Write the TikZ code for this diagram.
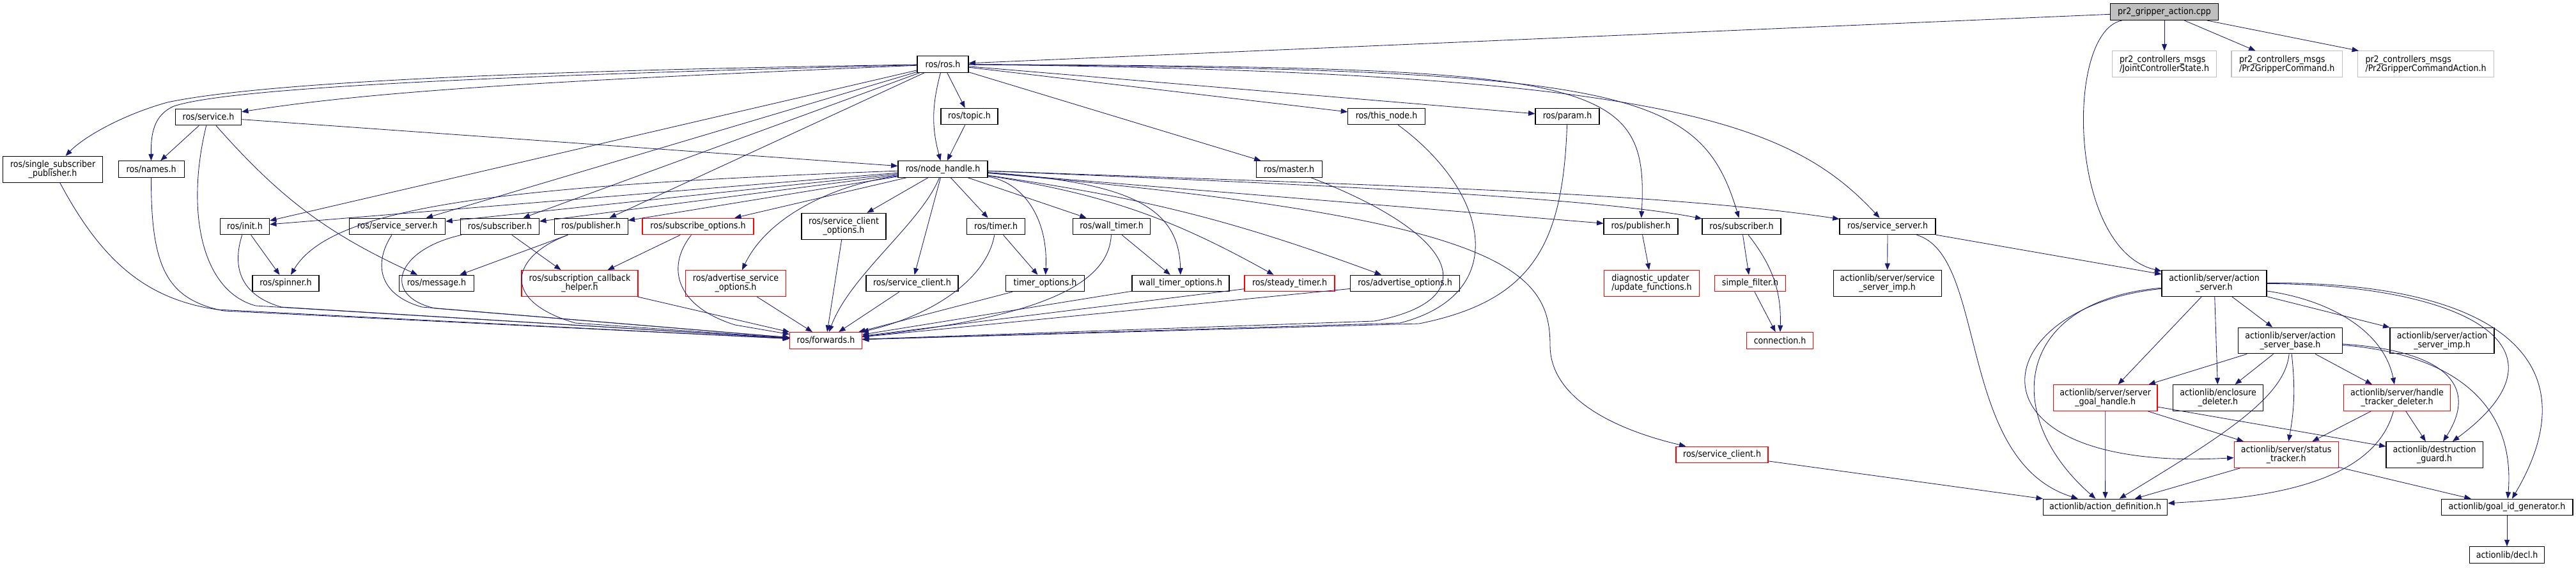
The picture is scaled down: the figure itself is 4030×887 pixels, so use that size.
\documentclass[tikz,border=0pt]{standalone}
\usepackage{fontspec}
\setmainfont{DejaVu Sans Condensed}
\usetikzlibrary{arrows.meta}
\definecolor{edgeblue}{RGB}{25,25,112}
\definecolor{boxgray}{RGB}{191,191,191}
\newcommand{\fname}[1]{\detokenize{#1}}
\tikzset{
    inclfile/.style={rectangle,draw=black,fill=white,line width=0.8pt,inner sep=0pt,align=center,minimum height=6.4mm,font=\fontsize{10}{10}\selectfont},
    incltwo/.style={inclfile,minimum height=10.2mm},
    inclred/.style={draw=red},
    inclext/.style={draw=boxgray,align=left},
    inclroot/.style={fill=boxgray},
    incledge/.style={-{Triangle[length=2.6mm,width=2mm]},draw=edgeblue,line width=0.6pt}
}

\begin{document}
\begin{tikzpicture}[x=0.25mm,y=-0.25mm]
    \useasboundingbox (0,0) rectangle (4030,887);
    % top rows
    \node[inclfile,inclroot,minimum width=42.1mm] (gripper) at (3386,18.7) {\fname{pr2_gripper_action.cpp}};
    \node[inclfile,minimum width=20mm] (rosh) at (1475,100.5) {\fname{ros/ros.h}};
    \node[incltwo,inclext,minimum width=40.75mm] (jcs) at (3386,100.3) {\fname{pr2_controllers_msgs}\\\fname{/JointControllerState.h}};
    \node[incltwo,inclext,minimum width=43.4mm] (gcmd) at (3577.7,100.3) {\fname{pr2_controllers_msgs}\\\fname{/Pr2GripperCommand.h}};
    \node[incltwo,inclext,minimum width=53.4mm] (gca) at (3795,100.3) {\fname{pr2_controllers_msgs}\\\fname{/Pr2GripperCommandAction.h}};
    \node[inclfile,minimum width=25.75mm] (service) at (326,183) {\fname{ros/service.h}};
    \node[inclfile,minimum width=22.25mm] (topic) at (1516.5,182) {\fname{ros/topic.h}};
    \node[inclfile,minimum width=30.1mm] (thisnode) at (2169,182) {\fname{ros/this_node.h}};
    \node[inclfile,minimum width=25mm] (param) at (2452,182) {\fname{ros/param.h}};
    \node[incltwo,minimum width=39mm] (ssp) at (82.6,264.7) {\fname{ros/single_subscriber}\\\fname{_publisher.h}};
    \node[inclfile,minimum width=25.75mm] (names) at (236.6,264.5) {\fname{ros/names.h}};
    \node[inclfile,minimum width=35mm] (nh) at (1475,264.5) {\fname{ros/node_handle.h}};
    \node[inclfile,minimum width=25.75mm] (master) at (2016.6,264.5) {\fname{ros/master.h}};
    % middle row
    \node[inclfile,minimum width=19.25mm] (init) at (383,354) {\fname{ros/init.h}};
    \node[inclfile,minimum width=37.5mm] (ssrvL) at (621.7,354) {\fname{ros/service_server.h}};
    \node[inclfile,minimum width=30.75mm] (subL) at (782,354) {\fname{ros/subscriber.h}};
    \node[inclfile,minimum width=28.75mm] (pubL) at (924.6,354) {\fname{ros/publisher.h}};
    \node[inclfile,inclred,minimum width=43.5mm] (subopts) at (1092,354) {\fname{ros/subscribe_options.h}};
    \node[incltwo,minimum width=33mm] (scopts) at (1320,353.7) {\fname{ros/service_client}\\\fname{_options.h}};
    \node[inclfile,minimum width=22.75mm] (timer) at (1558,354) {\fname{ros/timer.h}};
    \node[inclfile,minimum width=30.35mm] (walltimer) at (1739,354) {\fname{ros/wall_timer.h}};
    \node[inclfile,minimum width=29mm] (pubR) at (2567,354) {\fname{ros/publisher.h}};
    \node[inclfile,minimum width=30.75mm] (subR) at (2724.5,354) {\fname{ros/subscriber.h}};
    \node[inclfile,minimum width=37.5mm] (ssrvR) at (2953,354) {\fname{ros/service_server.h}};
    \node[incltwo,minimum width=41mm] (asrv) at (3464,443) {\fname{actionlib/server/action}\\\fname{_server.h}};
    % lower rows
    \node[inclfile,minimum width=26mm] (spinner) at (447,443) {\fname{ros/spinner.h}};
    \node[inclfile,minimum width=29.25mm] (message) at (683,443) {\fname{ros/message.h}};
    \node[incltwo,inclred,minimum width=45.5mm] (cbhelper) at (907,443) {\fname{ros/subscription_callback}\\\fname{_helper.h}};
    \node[incltwo,inclred,minimum width=39.25mm] (advsrvopts) at (1151,443) {\fname{ros/advertise_service}\\\fname{_options.h}};
    \node[inclfile,minimum width=36mm] (sclientB) at (1427,443) {\fname{ros/service_client.h}};
    \node[inclfile,minimum width=30.75mm] (timeropts) at (1635,443) {\fname{timer_options.h}};
    \node[inclfile,minimum width=38mm] (walltimeropts) at (1847,443) {\fname{wall_timer_options.h}};
    \node[inclfile,inclred,minimum width=35.25mm] (steady) at (2017.5,443) {\fname{ros/steady_timer.h}};
    \node[inclfile,minimum width=42.6mm] (advopts) at (2198,443) {\fname{ros/advertise_options.h}};
    \node[incltwo,inclred,align=left,minimum width=37.1mm] (diag) at (2584,443) {\fname{diagnostic_updater}\\\fname{/update_functions.h}};
    \node[inclfile,inclred,minimum width=27.7mm] (simplefilter) at (2738,443) {\fname{simple_filter.h}};
    \node[incltwo,minimum width=42.25mm] (ssimp) at (2952.6,443) {\fname{actionlib/server/service}\\\fname{_server_imp.h}};
    \node[inclfile,inclred,minimum width=28.15mm] (fwd) at (1292,532.3) {\fname{ros/forwards.h}};
    \node[inclfile,inclred,minimum width=26mm] (connection) at (2784.6,532.3) {\fname{connection.h}};
    \node[incltwo,minimum width=40.75mm] (asbase) at (3583,532.5) {\fname{actionlib/server/action}\\\fname{_server_base.h}};
    \node[incltwo,minimum width=40.75mm] (asimp) at (3820.5,532.5) {\fname{actionlib/server/action}\\\fname{_server_imp.h}};
    \node[incltwo,inclred,minimum width=40.6mm] (goalhandle) at (3293.7,622) {\fname{actionlib/server/server}\\\fname{_goal_handle.h}};
    \node[incltwo,minimum width=35.4mm] (enclosure) at (3470,622) {\fname{actionlib/enclosure}\\\fname{_deleter.h}};
    \node[incltwo,inclred,minimum width=41.7mm] (htd) at (3750,622) {\fname{actionlib/server/handle}\\\fname{_tracker_deleter.h}};
    \node[inclfile,inclred,minimum width=36mm] (sclientR) at (2694,711) {\fname{ros/service_client.h}};
    \node[incltwo,inclred,minimum width=40.75mm] (status) at (3576.6,711) {\fname{actionlib/server/status}\\\fname{_tracker.h}};
    \node[incltwo,minimum width=37.8mm] (destguard) at (3808.6,711) {\fname{actionlib/destruction}\\\fname{_guard.h}};
    \node[inclfile,minimum width=48.6mm] (actdef) at (3293.6,793) {\fname{actionlib/action_definition.h}};
    \node[inclfile,minimum width=51.45mm] (goalid) at (3922,793) {\fname{actionlib/goal_id_generator.h}};
    \node[inclfile,minimum width=29.25mm] (decl) at (3922,867.5) {\fname{actionlib/decl.h}};

    % includes of the source file
    \draw[incledge] (gripper) -- (rosh);
    \draw[incledge] (gripper) -- (jcs);
    \draw[incledge] (gripper) -- (gcmd);
    \draw[incledge] (gripper) -- (gca);
    \draw[incledge] (gripper) .. controls (3230,50) and (3235,390) .. (asrv);
    % ros/ros.h
    \draw[incledge] (rosh) .. controls (700,112) and (380,135) .. (262,160) .. controls (190,180) and (130,215) .. (ssp);
    \draw[incledge] (rosh) .. controls (700,120) and (350,140) .. (272,166) .. controls (240,180) and (236,210) .. (names);
    \draw[incledge] (rosh) .. controls (900,125) and (600,140) .. (service);
    \draw[incledge] (rosh) -- (init);
    \draw[incledge] (rosh) -- (ssrvL);
    \draw[incledge] (rosh) -- (subL);
    \draw[incledge] (rosh) -- (pubL);
    \draw[incledge] (rosh) -- (topic);
    \draw[incledge] (rosh) to[bend right=15] (nh);
    \draw[incledge] (rosh) -- (master);
    \draw[incledge] (rosh) -- (thisnode);
    \draw[incledge] (rosh) -- (param);
    \draw[incledge] (rosh) .. controls (2500,105) and (2580,120) .. (pubR);
    \draw[incledge] (rosh) .. controls (2550,108) and (2660,140) .. (subR);
    \draw[incledge] (rosh) .. controls (2600,112) and (2800,190) .. (ssrvR);
    % ros/service.h and ros/topic.h
    \draw[incledge] (service) -- (names);
    \draw[incledge] (service) -- (nh);
    \draw[incledge] (service) to[bend right=12] (message);
    \draw[incledge] (service) .. controls (290,330) and (315,455) .. (400,478) -- (fwd);
    \draw[incledge] (topic) -- (nh);
    % ros/node_handle.h
    \draw[incledge] (nh) -- (init);
    \draw[incledge] (nh) -- (ssrvL);
    \draw[incledge] (nh) -- (subL);
    \draw[incledge] (nh) -- (pubL);
    \draw[incledge] (nh) -- (subopts);
    \draw[incledge] (nh) .. controls (800,290) and (520,320) .. (spinner);
    \draw[incledge] (nh) .. controls (1300,290) and (1200,340) .. (advsrvopts);
    \draw[incledge] (nh) -- (scopts);
    \draw[incledge] (nh) .. controls (1440,350) and (1330,430) .. (fwd);
    \draw[incledge] (nh) -- (sclientB);
    \draw[incledge] (nh) -- (timer);
    \draw[incledge] (nh) .. controls (1600,285) and (1640,340) .. (timeropts);
    \draw[incledge] (nh) -- (walltimer);
    \draw[incledge] (nh) .. controls (1760,285) and (1845,320) .. (walltimeropts);
    \draw[incledge] (nh) to[bend left=10] (steady);
    \draw[incledge] (nh) to[bend left=6] (advopts);
    \draw[incledge] (nh) .. controls (2350,340) and (2425,420) .. (2425,540) .. controls (2425,620) and (2520,670) .. (sclientR);
    \draw[incledge] (nh) -- (pubR);
    \draw[incledge] (nh) .. controls (2100,290) and (2500,310) .. (subR);
    \draw[incledge] (nh) .. controls (2100,288) and (2600,300) .. (ssrvR);
    % everything into ros/forwards.h
    \draw[incledge] (ssp) .. controls (160,410) and (230,468) .. (340,484) -- (fwd);
    \draw[incledge] (names) .. controls (236,420) and (262,468) .. (350,486) -- (fwd);
    \draw[incledge] (init) .. controls (362,420) and (378,462) .. (440,480) -- (fwd);
    \draw[incledge] (ssrvL) .. controls (585,410) and (590,460) .. (660,480) -- (fwd);
    \draw[incledge] (subL) .. controls (620,390) and (595,462) .. (680,482) -- (fwd);
    \draw[incledge] (pubL) .. controls (800,400) and (780,470) .. (900,505) -- (fwd);
    \draw[incledge] (subopts) .. controls (1040,420) and (1060,480) .. (1150,508) -- (fwd);
    \draw[incledge] (cbhelper) -- (fwd);
    \draw[incledge] (advsrvopts) -- (fwd);
    \draw[incledge] (scopts) -- (fwd);
    \draw[incledge] (sclientB) -- (fwd);
    \draw[incledge] (timer) .. controls (1545,430) and (1470,490) .. (fwd);
    \draw[incledge] (timeropts) -- (fwd);
    \draw[incledge] (walltimer) .. controls (1735,440) and (1640,495) .. (fwd);
    \draw[incledge] (walltimeropts) -- (fwd);
    \draw[incledge] (steady) -- (fwd);
    \draw[incledge] (advopts) -- (fwd);
    \draw[incledge] (master) .. controls (2290,370) and (2320,470) .. (2150,502) -- (fwd);
    \draw[incledge] (thisnode) .. controls (2330,300) and (2365,460) .. (2190,505) -- (fwd);
    \draw[incledge] (param) .. controls (2445,380) and (2400,470) .. (2220,506) -- (fwd);
    % other ros headers
    \draw[incledge] (init) -- (spinner);
    \draw[incledge] (subL) -- (cbhelper);
    \draw[incledge] (subopts) -- (cbhelper);
    \draw[incledge] (pubL) -- (message);
    \draw[incledge] (timer) -- (timeropts);
    \draw[incledge] (walltimer) -- (walltimeropts);
    \draw[incledge] (pubR) -- (diag);
    \draw[incledge] (subR) -- (simplefilter);
    \draw[incledge] (subR) to[bend left=20] (connection);
    \draw[incledge] (simplefilter) -- (connection);
    \draw[incledge] (ssrvR) -- (ssimp);
    \draw[incledge] (ssrvR) -- (asrv);
    \draw[incledge] (ssrvR) .. controls (3110,400) and (3060,720) .. (actdef);
    \draw[incledge] (sclientR) -- (actdef);
    % actionlib
    \draw[incledge] (asrv) -- (goalhandle);
    \draw[incledge] (asrv) -- (enclosure);
    \draw[incledge] (asrv) -- (asbase);
    \draw[incledge] (asrv) .. controls (3650,470) and (3730,520) .. (htd);
    \draw[incledge] (asrv) -- (asimp);
    \draw[incledge] (asrv) .. controls (3850,445) and (4040,540) .. (destguard);
    \draw[incledge] (asrv) .. controls (3900,440) and (4060,560) .. (goalid);
    \draw[incledge] (asrv) .. controls (3150,470) and (3130,650) .. (actdef);
    \draw[incledge] (asrv) .. controls (3100,480) and (3060,740) .. (status);
    \draw[incledge] (asbase) -- (goalhandle);
    \draw[incledge] (asbase) -- (enclosure);
    \draw[incledge] (asbase) .. controls (3575,620) and (3480,680) .. (actdef);
    \draw[incledge] (asbase) to[bend left=8] (status);
    \draw[incledge] (asbase) -- (htd);
    \draw[incledge] (asbase) .. controls (3820,548) and (3880,600) .. (destguard);
    \draw[incledge] (asbase) .. controls (3850,555) and (3935,640) .. (goalid);
    \draw[incledge] (goalhandle) -- (actdef);
    \draw[incledge] (goalhandle) -- (status);
    \draw[incledge] (goalhandle) -- (destguard);
    \draw[incledge] (htd) -- (status);
    \draw[incledge] (htd) -- (destguard);
    \draw[incledge] (htd) .. controls (3710,770) and (3500,780) .. (actdef);
    \draw[incledge] (status) -- (actdef);
    \draw[incledge] (status) -- (goalid);
    \draw[incledge] (goalid) -- (decl);
\end{tikzpicture}
\end{document}
